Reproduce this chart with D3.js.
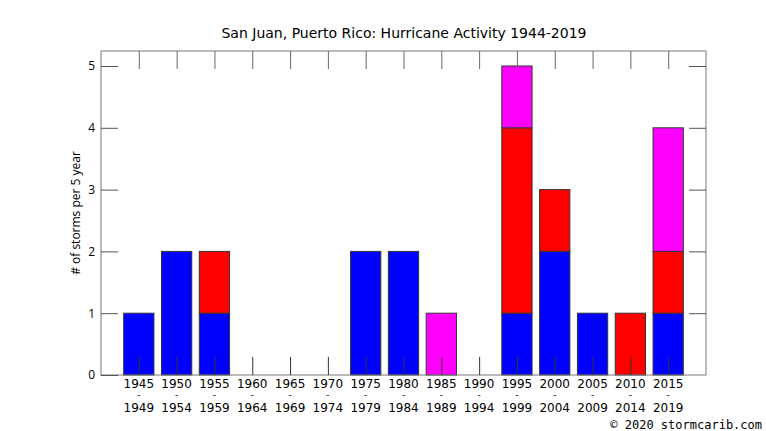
<!DOCTYPE html>
<html>
<head>
<meta charset="utf-8">
<script src="https://cdn.jsdelivr.net/npm/d3@7"></script>
<style>
  body { margin: 0; background: #fff; }
  svg { display: block; }
</style>
</head>
<body>
<svg id="chart" width="766" height="431"></svg>
<script>
// 5-year periods (start / end year)
const periodStart = ['1945', '1950', '1955', '1960', '1965', '1970', '1975', '1980', '1985', '1990', '1995', '2000', '2005', '2010', '2015'];
const periodEnd = ['1949', '1954', '1959', '1964', '1969', '1974', '1979', '1984', '1989', '1994', '1999', '2004', '2009', '2014', '2019'];

// stacked series, bottom to top
const blueCounts = [1, 2, 1, 0, 0, 0, 2, 2, 0, 0, 1, 2, 1, 0, 1];
const redCounts = [0, 0, 1, 0, 0, 0, 0, 0, 0, 0, 3, 1, 0, 1, 1];
const magentaCounts = [0, 0, 0, 0, 0, 0, 0, 0, 1, 0, 1, 0, 0, 0, 2];

const seriesKeys = ['blue', 'red', 'magenta'];
const seriesColors = ['#0000ff', '#ff0000', '#ff00ff'];
const yTicks = [0, 1, 2, 3, 4, 5];

const svg = d3.select('#chart');

// plot frame
const plotLeft = 101, plotRight = 706, plotTop = 51, plotBottom = 375;

// x is a continuous index scale: the frame spans one slot either side
const x = d3.scaleLinear().domain([-1, 15]).range([plotLeft, plotRight]);
const y = d3.scaleLinear().domain([0, 5]).range([plotBottom, 66]);
const slot = x(1) - x(0);
const barWidth = slot * 0.8;

const rows = periodStart.map((p, i) => ({
    i: i,
    blue: blueCounts[i],
    red: redCounts[i],
    magenta: magentaCounts[i]
}));

const stacked = d3.stack().keys(seriesKeys)(rows);

// bars
svg.append('g')
    .selectAll('g')
    .data(stacked)
    .join('g')
    .attr('fill', (d, k) => seriesColors[k])
    .selectAll('rect')
    .data(d => d.filter(s => s[1] > s[0]))
    .join('rect')
    .attr('x', d => x(d.data.i) - barWidth / 2)
    .attr('width', barWidth)
    .attr('y', d => y(d[1]))
    .attr('height', d => y(d[0]) - y(d[1]))
    .attr('stroke', '#333')
    .attr('stroke-width', 1);

// frame
svg.append('rect')
    .attr('x', plotLeft)
    .attr('y', plotTop)
    .attr('width', plotRight - plotLeft)
    .attr('height', plotBottom - plotTop)
    .attr('fill', 'none')
    .attr('stroke', '#777')
    .attr('stroke-width', 1);

const tickLen = 18;

// x ticks (bottom and top, inward), drawn over the bars
const xAxisBottom = d3.axisBottom(x)
    .tickValues(d3.range(periodStart.length))
    .tickSizeInner(-tickLen)
    .tickSizeOuter(0)
    .tickFormat('');
svg.append('g')
    .attr('transform', 'translate(0,' + plotBottom + ')')
    .call(xAxisBottom)
    .call(g => g.select('.domain').remove())
    .call(g => g.selectAll('line').attr('stroke', '#333'));

const xAxisTop = d3.axisTop(x)
    .tickValues(d3.range(periodStart.length))
    .tickSizeInner(-tickLen)
    .tickSizeOuter(0)
    .tickFormat('');
svg.append('g')
    .attr('transform', 'translate(0,' + plotTop + ')')
    .call(xAxisTop)
    .call(g => g.select('.domain').remove())
    .call(g => g.selectAll('line').attr('stroke', '#666'));

// x labels: start year, dash, end year
const xLabels = svg.append('g')
    .attr('font-family', 'DejaVu Sans, sans-serif')
    .attr('font-size', 12)
    .attr('fill', '#000')
    .attr('text-anchor', 'middle');
periodStart.forEach((p, i) => {
    xLabels.append('text').attr('x', x(i)).attr('y', 388).text(p);
    xLabels.append('text').attr('x', x(i)).attr('y', 398).attr('font-size', 9).text('-');
    xLabels.append('text').attr('x', x(i)).attr('y', 412).text(periodEnd[i]);
});

// y ticks, left and right, inward
const yAxisLeft = d3.axisLeft(y)
    .tickValues(yTicks)
    .tickSizeInner(-17)
    .tickSizeOuter(0)
    .tickPadding(6)
    .tickFormat(d3.format('d'));
svg.append('g')
    .attr('transform', 'translate(' + plotLeft + ',0)')
    .call(yAxisLeft)
    .call(g => g.select('.domain').remove())
    .call(g => g.selectAll('line').attr('stroke', '#555'))
    .call(g => g.selectAll('text')
        .attr('font-family', 'Open Sans, sans-serif')
        .attr('font-size', 12)
        .attr('fill', '#000'));

const yAxisRight = d3.axisRight(y)
    .tickValues(yTicks.filter(v => v > 0))
    .tickSizeInner(-17)
    .tickSizeOuter(0)
    .tickFormat('');
svg.append('g')
    .attr('transform', 'translate(' + plotRight + ',0)')
    .call(yAxisRight)
    .call(g => g.select('.domain').remove())
    .call(g => g.selectAll('line').attr('stroke', '#555'));

// title
svg.append('text')
    .attr('x', 404)
    .attr('y', 38)
    .attr('text-anchor', 'middle')
    .attr('font-family', 'DejaVu Sans, sans-serif')
    .attr('font-size', 14)
    .attr('fill', '#000')
    .text('San Juan, Puerto Rico: Hurricane Activity 1944-2019');

// y axis label
svg.append('text')
    .attr('transform', 'translate(80,213) rotate(-90)')
    .attr('text-anchor', 'middle')
    .attr('font-family', 'Open Sans, sans-serif')
    .attr('font-size', 12)
    .attr('fill', '#000')
    .text('# of storms per 5 year');

// credit
svg.append('text')
    .attr('x', 762)
    .attr('y', 429)
    .attr('text-anchor', 'end')
    .attr('font-family', 'DejaVu Sans Mono, monospace')
    .attr('font-size', 12)
    .attr('fill', '#000')
    .text('\u00a9 2020 stormcarib.com');
</script>
</body>
</html>
